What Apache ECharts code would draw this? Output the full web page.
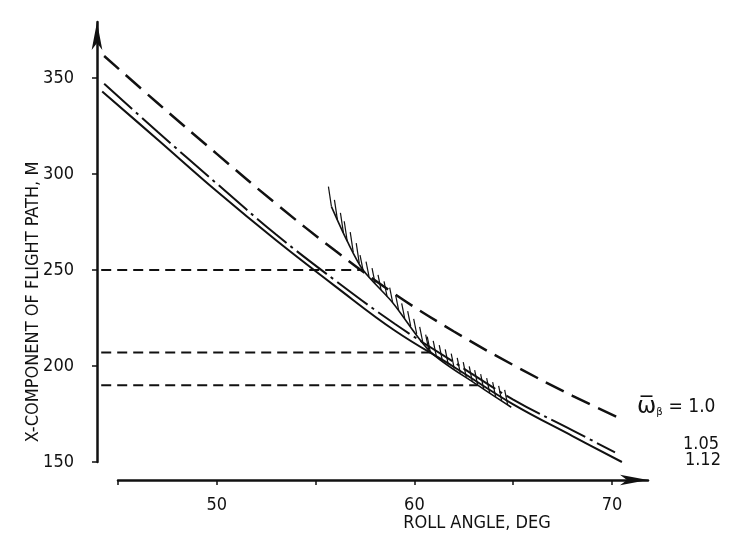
<!DOCTYPE html>
<html>
<head>
<meta charset="utf-8">
<script src="https://cdn.jsdelivr.net/npm/echarts@6/dist/echarts.min.js"></script>
<style>
html,body{margin:0;padding:0;background:#fff}
#chart{width:731px;height:546px}
</style>
</head>
<body>
<div id="chart"></div>
<script>
// roll angle (deg) -> x-component of flight path (m)
var x_10  = [44.3, 47, 50, 53, 56, 59, 62, 65, 68, 70.55]
var y_10  = [361.5, 337, 310.5, 284.5, 260, 237.5, 218, 200.5, 184.5, 172]
var x_105 = [44.3, 47, 50, 53, 56, 59, 62, 65, 68, 70.15]
var y_105 = [347, 322, 295, 268.5, 244.5, 222, 202, 182.5, 166.5, 155]
var x_112 = [44.2, 47, 50, 53, 56, 59, 62, 65, 68, 70.5]
var y_112 = [343, 318, 291, 265.5, 241.5, 218.5, 199.5, 180, 163.5, 150]

// stall onset boundary
var stall_x = [55.8, 56.6, 57.4, 58.9, 60.8, 63.2, 64.9]
var stall_y = [283, 265, 250, 233, 207.5, 190, 178.5]

// horizontal reference levels
var level_y = [250, 207, 190]
var level_x_end = [57.4, 60.8, 63.2]
var level_x_start = 44.15

var x_ticks = [45, 50, 55, 60, 65, 70]
var x_labels = [50, 60, 70]
var y_ticks = [150, 200, 250, 300, 350]
var curve_names = ['1.0', '1.05', '1.12']

var FONT = "'DejaVu Sans Condensed', 'Liberation Sans Narrow', 'DejaVu Sans', sans-serif"
var INK = '#111'
var FS = 18

function zip(xs, ys) {
    return xs.map(function(x, i) { return [x, ys[i]] })
}

// hatched stall line: base curve plus short strokes on its upper side,
// spaced evenly in screen x
function renderStall(params, api) {
    var pts = stall_x.map(function(x, i) { return api.coord([x, stall_y[i]]) })
    var kids = [{
        type: 'polyline',
        shape: { points: pts, smooth: 0.3 },
        style: { stroke: INK, lineWidth: 1.6, fill: null }
    }]
    var step = 6
    for (var i = 0; i < pts.length - 1; i++) {
        var a = pts[i], b = pts[i + 1]
        for (var px = a[0]; px < b[0]; px += step) {
            var t = (px - a[0]) / (b[0] - a[0])
            var py = a[1] + (b[1] - a[1]) * t
            var h = i < 2 ? 20 : 15
            kids.push({
                type: 'line',
                shape: { x1: px, y1: py, x2: px - 3, y2: py - h },
                style: { stroke: INK, lineWidth: 1.2 }
            })
        }
    }
    return { type: 'group', children: kids }
}

var labelRich = {
    w: { fontFamily: 'DejaVu Sans', fontSize: 23, color: INK },
    b: { fontFamily: 'DejaVu Sans', fontSize: 10, color: INK, padding: [12, 6, 0, 0] }
}

var series = [
    {
        name: curve_names[0], type: 'line', data: zip(x_10, y_10),
        symbol: 'none', smooth: 0.4,
        lineStyle: { color: INK, width: 2.5, type: [20, 9] },
        endLabel: {
            show: true, formatter: '{w|ω̅}{b|β}= ' + curve_names[0],
            offset: [6, -13], color: INK, fontSize: 19, fontFamily: FONT, rich: labelRich
        }
    },
    {
        name: curve_names[1], type: 'line', data: zip(x_105, y_105),
        symbol: 'none', smooth: 0.4,
        lineStyle: { color: INK, width: 2, type: [38, 5, 3, 5] },
        endLabel: {
            show: true, formatter: curve_names[1],
            offset: [60, -8], color: INK, fontSize: FS, fontFamily: FONT
        }
    },
    {
        name: curve_names[2], type: 'line', data: zip(x_112, y_112),
        symbol: 'none', smooth: 0.4,
        lineStyle: { color: INK, width: 2 },
        endLabel: {
            show: true, formatter: curve_names[2],
            offset: [55, -2], color: INK, fontSize: FS, fontFamily: FONT
        }
    },
    {
        type: 'custom', renderItem: renderStall, clip: false,
        data: [[stall_x[0], stall_y[0]]], silent: true
    }
]

level_y.forEach(function(lv, i) {
    series.push({
        type: 'line', data: [[level_x_start, lv], [level_x_end[i], lv]],
        symbol: 'none', silent: true,
        lineStyle: { color: INK, width: 2, type: [10, 6] }
    })
})

var axisArrow = { show: true, onZero: false, symbol: ['none', 'arrow'], symbolSize: [8, 28], lineStyle: { color: INK, width: 2.5 } }

var chart = echarts.init(document.getElementById('chart'))
chart.setOption({
    animation: false,
    backgroundColor: '#fff',
    // grid 0 holds the data and the y axis, grid 1 only draws the detached x axis
    grid: [
        { left: 97, right: 83, top: 22, bottom: 84 },
        { left: 118, right: 83, top: 22, bottom: 84 }
    ],
    xAxis: [
        { gridIndex: 0, type: 'value', min: 43.937, max: 71.82, show: false },
        {
            gridIndex: 1, type: 'value', min: 45, max: 71.82, offset: 18,
            axisLine: axisArrow,
            axisTick: { show: true, customValues: x_ticks, length: 5, lineStyle: { color: INK, width: 1.5 } },
            axisLabel: { customValues: x_labels, margin: 16, color: INK, fontSize: FS, fontFamily: FONT },
            splitLine: { show: false },
            name: 'ROLL ANGLE, DEG', nameLocation: 'middle', nameGap: 34, nameMoveOverlap: false,
            nameTextStyle: { color: INK, fontSize: FS, fontFamily: FONT, padding: [0, 0, 0, 188] }
        }
    ],
    yAxis: [
        {
            gridIndex: 0, type: 'value', min: 150, max: 379.2,
            axisLine: axisArrow,
            axisTick: { show: true, customValues: y_ticks, length: 5, lineStyle: { color: INK, width: 1.5 } },
            axisLabel: { customValues: y_ticks, margin: 23, color: INK, fontSize: FS, fontFamily: FONT },
            splitLine: { show: false },
            name: 'X-COMPONENT OF FLIGHT PATH, M', nameLocation: 'middle', nameRotate: 90,
            nameGap: 55, nameMoveOverlap: false,
            nameTextStyle: { color: INK, fontSize: FS, fontFamily: FONT, padding: [0, 120, 0, 0] }
        },
        { gridIndex: 1, type: 'value', min: 150, max: 379.2, show: false }
    ],
    series: series
})
</script>
</body>
</html>
